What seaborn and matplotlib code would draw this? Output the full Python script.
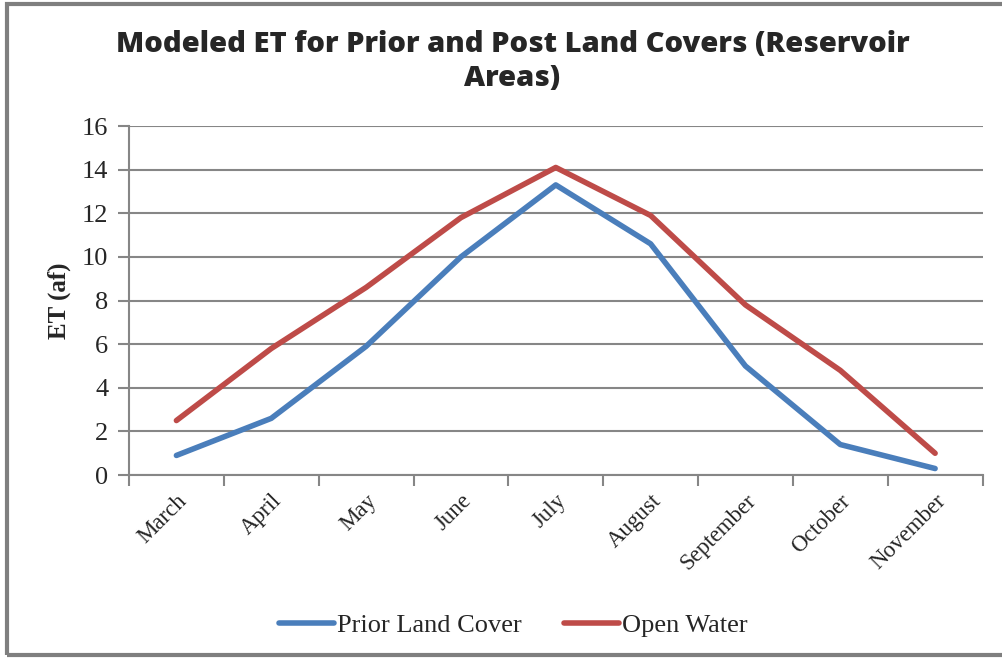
import numpy as np
import pandas as pd
import seaborn as sns
import matplotlib.pyplot as plt
from matplotlib.patches import Rectangle

months = ['March', 'April', 'May', 'June', 'July', 'August',
          'September', 'October', 'November']
prior_land_cover = [0.9, 2.6, 5.9, 10.0, 13.3, 10.6, 5.0, 1.4, 0.3]
open_water = [2.5, 5.8, 8.6, 11.8, 14.1, 11.9, 7.8, 4.8, 1.0]
series_names = ['Prior Land Cover', 'Open Water']
y_ticks = [0, 2, 4, 6, 8, 10, 12, 14, 16]

df = pd.DataFrame({
    'month': months * 2,
    'pos': list(range(len(months))) * 2,
    'ET': prior_land_cover + open_water,
    'series': [series_names[0]] * len(months) + [series_names[1]] * len(months),
})

sns.set_theme(style='white')
plt.rcParams['font.family'] = ['Liberation Serif', 'DejaVu Serif']

fig = plt.figure(figsize=(10.03, 6.58), dpi=100)
ax = fig.add_axes([0.1286, 0.278, 0.851, 0.5305])

sns.lineplot(data=df, x='pos', y='ET', hue='series', hue_order=series_names,
             palette=['#4A7EBB', '#BE4B48'], linewidth=4, ax=ax,
             solid_capstyle='round')

grid_c = '#868686'
ax.set_ylim(0, 16)
ax.set_xlim(-0.5, len(months) - 0.5)
ax.set_yticks(y_ticks)
ax.set_yticklabels([str(t) for t in y_ticks], fontsize=19)
ax.yaxis.grid(True, color=grid_c, linewidth=1.5)
ax.set_axisbelow(True)

ax.set_xticks(range(len(months)))
ax.set_xticklabels(months, rotation=45, ha='right', rotation_mode='anchor', fontsize=16.5)
ax.set_xticks(np.arange(-0.5, len(months)), minor=True)
ax.tick_params(axis='x', which='major', length=0, pad=11)
ax.tick_params(axis='x', which='minor', length=8, width=1.5, color=grid_c, direction='out', bottom=True)
ax.tick_params(axis='y', length=8, width=1.5, color=grid_c, direction='out', left=True, pad=7)

for s in ['top', 'right']:
    ax.spines[s].set_visible(False)
for s in ['left', 'bottom']:
    ax.spines[s].set_color(grid_c)
    ax.spines[s].set_linewidth(1.5)

ax.set_xlabel('')
ax.set_ylabel('ET (af)', fontsize=18, fontweight='bold', labelpad=8)

fig.suptitle('Modeled ET for Prior and Post Land Covers (Reservoir\nAreas)',
             x=0.511, y=0.955, fontsize=21, fontweight='heavy',
             family=['Open Sans', 'DejaVu Sans'], linespacing=1.25)

ax.legend(loc='center', bbox_to_anchor=(0.45, -0.43), ncol=2, frameon=False,
          fontsize=19, handlelength=2.1, handletextpad=0.1, columnspacing=1.6)

fig.patches.append(Rectangle((0.007, 0.004), 0.995, 0.99, transform=fig.transFigure,
                             fill=False, edgecolor='#7f7f7f', linewidth=3))

fig.savefig('out.png', dpi=100)
